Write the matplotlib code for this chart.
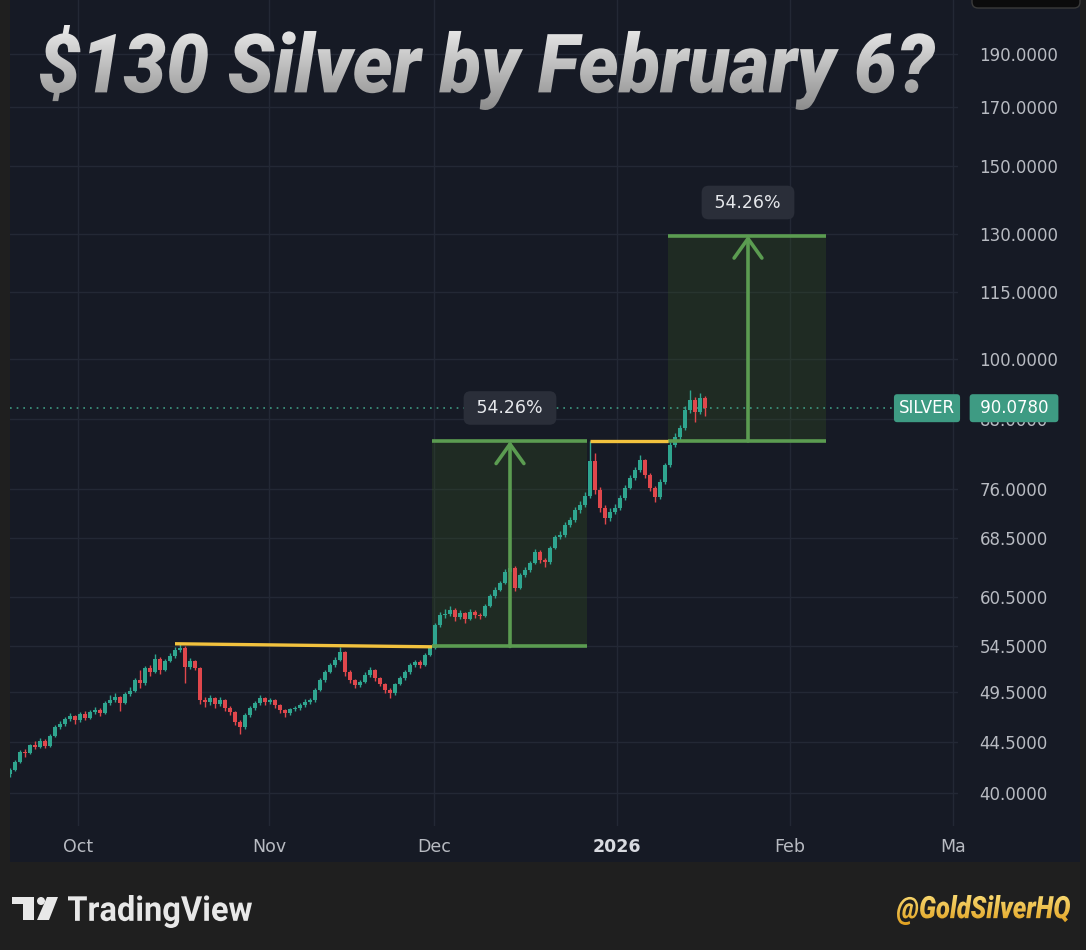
import numpy as np
import matplotlib
matplotlib.use('Agg')
import matplotlib.pyplot as plt
from matplotlib.patches import Rectangle, PathPatch, FancyBboxPatch, Circle, Polygon
from matplotlib.textpath import TextPath
from matplotlib.font_manager import FontProperties
from matplotlib.transforms import Affine2D, blended_transform_factory
from matplotlib.colors import LinearSegmentedColormap
from matplotlib.ticker import NullLocator

# silver candles, one entry per bar
closes = [42.00, 42.70, 43.62, 43.50, 44.26, 44.10, 44.64, 44.20, 45.11, 45.98,
          46.27, 46.76, 47.05, 46.65, 47.25, 46.90, 47.46, 47.66, 47.40, 48.36,
          48.67, 48.98, 48.40, 49.29, 49.60, 50.77, 50.40, 52.07, 51.60, 53.07,
          51.85, 52.84, 53.40, 54.08, 54.31, 52.18, 52.80, 52.07, 48.67, 48.47,
          48.88, 48.26, 48.67, 47.86, 47.46, 46.46, 45.98, 47.15, 47.86, 48.36,
          48.88, 48.47, 48.67, 48.16, 47.66, 47.35, 47.76, 47.86, 48.16, 48.47,
          48.67, 49.71, 50.77, 51.63, 52.40, 52.95, 53.86, 51.63, 50.77, 50.24,
          50.56, 51.31, 51.85, 50.98, 50.34, 49.71, 49.39, 50.34, 50.98, 51.63,
          52.40, 52.73, 52.45, 53.52, 54.31, 57.01, 58.23, 58.35, 58.85, 57.98,
          58.47, 57.74, 58.60, 58.23, 58.11, 59.35, 60.61, 61.39, 62.30, 63.76,
          64.30, 61.65, 63.36, 64.03, 64.98, 66.51, 65.40, 65.11, 67.07, 68.65,
          68.94, 70.41, 71.15, 72.67, 73.44, 74.85, 80.50, 75.80, 72.98, 71.46,
          72.36, 72.98, 74.54, 76.13, 77.75, 79.07, 80.75, 78.24, 76.13, 74.69,
          77.09, 79.91, 83.35, 84.77, 86.39, 89.74, 91.65, 89.36, 92.04, 90.08]
highs = [42.2, 42.9, 43.8, 43.9, 44.4, 44.6, 44.9, 44.8, 45.3, 46.2,
         46.6, 47.0, 47.4, 47.2, 47.5, 47.6, 47.7, 48.0, 47.9, 48.6,
         49.2, 49.4, 49.1, 49.5, 50.0, 51.0, 51.9, 52.3, 52.4, 53.6,
         53.3, 53.1, 53.7, 54.4, 54.8, 54.5, 53.2, 53.0, 52.2, 49.0,
         49.2, 49.0, 49.0, 48.8, 48.1, 47.6, 46.7, 47.4, 48.1, 48.6,
         49.2, 49.0, 48.9, 48.8, 48.3, 47.8, 47.9, 48.1, 48.4, 48.8,
         48.9, 49.9, 51.0, 51.9, 52.6, 53.3, 54.4, 54.0, 51.8, 50.9,
         50.8, 51.6, 52.2, 52.0, 51.1, 50.5, 49.9, 50.5, 51.2, 51.9,
         52.6, 53.0, 52.9, 53.7, 54.6, 57.3, 58.6, 59.0, 59.3, 59.1,
         58.8, 58.6, 59.0, 58.9, 58.5, 59.6, 60.9, 61.8, 62.6, 64.1,
         64.8, 64.6, 63.6, 64.4, 65.3, 66.9, 66.8, 65.7, 67.4, 69.0,
         69.5, 70.8, 71.6, 73.1, 74.0, 75.4, 84.05, 82.0, 76.3, 73.5,
         73.0, 73.6, 75.0, 76.6, 78.2, 79.6, 81.6, 81.0, 78.6, 76.5,
         77.5, 80.3, 83.8, 85.4, 87.0, 90.4, 93.6, 92.3, 93.0, 92.5]
lows = [41.4, 41.9, 42.6, 43.2, 43.4, 43.9, 44.0, 44.0, 44.1, 45.0,
        45.8, 46.1, 46.6, 46.3, 46.5, 46.7, 46.8, 47.3, 47.1, 47.3,
        48.2, 48.5, 47.6, 48.3, 49.1, 49.5, 49.9, 50.2, 51.2, 51.5,
        51.4, 51.7, 52.7, 53.2, 53.9, 50.4, 52.0, 51.8, 48.3, 48.0,
        48.2, 47.9, 48.1, 47.6, 47.2, 46.2, 45.3, 45.8, 47.0, 47.7,
        48.2, 48.2, 48.3, 47.9, 47.4, 47.0, 47.2, 47.6, 47.7, 48.0,
        48.3, 48.5, 49.6, 50.6, 51.5, 52.2, 52.8, 51.2, 50.4, 49.9,
        50.0, 50.4, 51.1, 50.7, 50.1, 49.4, 48.9, 49.2, 50.2, 50.8,
        51.4, 52.2, 52.1, 52.3, 53.4, 54.2, 56.8, 57.9, 58.1, 57.5,
        57.8, 57.3, 57.6, 57.9, 57.8, 58.0, 59.2, 60.4, 61.2, 62.1,
        63.5, 61.2, 61.5, 63.1, 63.8, 64.8, 65.0, 64.5, 64.9, 66.9,
        68.3, 68.7, 70.1, 70.9, 72.2, 73.2, 74.6, 75.2, 72.4, 70.6,
        71.0, 72.0, 72.7, 74.2, 75.9, 77.4, 78.8, 77.8, 75.7, 73.9,
        74.4, 76.8, 79.6, 83.0, 84.3, 86.0, 89.2, 87.5, 88.9, 88.6]
first_open = 41.60

last_price = 90.0780
symbol = 'SILVER'

price_ticks = [40, 44.5, 49.5, 54.5, 60.5, 68.5, 76, 88, 100, 115, 130, 150, 170, 190]
month_labels = ['Oct', 'Nov', 'Dec', '2026', 'Feb', 'Ma']
month_bars = [13.6, 51.8, 84.8, 121.4, 156.0, 188.6]

# price range tool: bottom of the first box, percent move, bar spans
range_low = 54.49
range_pct = 54.26
box1_bars = (84.4, 115.4, 100.0)   # left, right, arrow
box2_bars = (131.6, 163.2, 147.6)

# yellow resistance lines (bar0, price0, bar1, price1)
res1 = (33.0, 54.80, 84.4, 54.45)
res2_bars = (116.0, 131.6)

title = '$130 Silver by February 6?'
handle = '@GoldSilverHQ'

W, H = 1086, 950
BG = '#161a25'
GRID = '#232835'
UP = '#2fa58f'
DOWN = '#e0474c'
GREEN = '#5b9c51'
YELLOW = '#f2c23e'
TEAL = '#3e9b83'
LABEL = '#b8bbc2'

fig = plt.figure(figsize=(W / 100, H / 100), dpi=100, facecolor='#1f1f1f')
fig.patches.append(Rectangle((10 / W, 1 - 862 / H), 1070 / W, 862 / H,
                             transform=fig.transFigure, fc=BG, ec='none', zorder=-5))

ax = fig.add_axes([10 / W, 1 - 826 / H, 948 / W, 826 / H])
ax.set_facecolor(BG)
ax.set_yscale('log')
ax.set_ylim(37.31, 213.1)
ax.set_xlim(0, 189.6)
for s in ax.spines.values():
    s.set_visible(False)

# candles
opens = [first_open] + closes[:-1]
x = np.arange(len(closes))
o = np.array(opens)
c = np.array(closes)
cols = [UP if cc >= oo else DOWN for oo, cc in zip(o, c)]
lo_b = np.minimum(o, c)
hi_b = np.maximum(o, c)
ax.vlines(x, lows, highs, colors=cols, lw=1.0, zorder=4)
ax.bar(x, np.maximum(hi_b - lo_b, 0.08), bottom=lo_b, width=0.7, color=cols, zorder=4, lw=0)

# price range boxes
top1 = range_low * (1 + range_pct / 100)
top2 = top1 * (1 + range_pct / 100)
for (x0, x1, xa), lo, hi in [(box1_bars, range_low, top1), (box2_bars, top1, top2)]:
    ax.add_patch(Rectangle((x0, lo), x1 - x0, hi - lo, fc='#3a5e21', alpha=0.25, ec='none', zorder=2))
    ax.hlines([lo, hi], x0, x1, color=GREEN, lw=2.6, zorder=5)
    ax.annotate('', xy=(xa, hi), xytext=(xa, lo),
                arrowprops=dict(arrowstyle='->,head_length=0.7,head_width=0.5', color=GREEN,
                                lw=2.6, shrinkA=0, shrinkB=0, mutation_scale=20), zorder=5)
    ax.annotate(f' {range_pct:.2f}% ', xy=(xa, hi), xytext=(0, 33), textcoords='offset pixels',
                ha='center', va='center', fontsize=12.5, color='#e6e8ec', zorder=7,
                bbox=dict(boxstyle='round,pad=0.45,rounding_size=0.4', fc='#2a2e39', ec='none'))

# resistance lines
ax.plot([res1[0], res1[2]], [res1[1], res1[3]], color=YELLOW, lw=2.4, zorder=6, solid_capstyle='butt')
ax.plot(list(res2_bars), [top1, top1], color=YELLOW, lw=2.4, zorder=6, solid_capstyle='butt')

# last price
ax.axhline(last_price, color=TEAL, ls=(0, (1, 3)), lw=1.2, zorder=3)
bt = blended_transform_factory(ax.transAxes, ax.transData)
ax.text(0.9673, last_price, symbol, transform=bt, ha='center', va='center', fontsize=12,
        color='white', zorder=8, clip_on=False,
        bbox=dict(boxstyle='round,pad=0.3,rounding_size=0.2', fc=TEAL, ec='none'))
ax.text(1.0591, last_price, f' {last_price:.4f} ', transform=bt, ha='center', va='center',
        fontsize=12, color='white', zorder=8, clip_on=False,
        bbox=dict(boxstyle='round,pad=0.3,rounding_size=0.2', fc=TEAL, ec='none'))

# axes
ax.set_yticks(price_ticks)
ax.set_yticklabels([f'{v:.4f}' for v in price_ticks])
ax.yaxis.set_minor_locator(NullLocator())
ax.yaxis.tick_right()
ax.tick_params(axis='y', length=0, pad=15.5, labelsize=12, labelcolor=LABEL)
ax.set_xticks(month_bars)
ax.set_xticklabels(month_labels)
ax.tick_params(axis='x', length=0, pad=9, labelsize=12.5, labelcolor=LABEL)
for t in ax.get_xticklabels():
    if t.get_text() == '2026':
        t.set_fontweight('bold')
        t.set_color('#d8dae0')
ax.grid(True, color=GRID, lw=1)
ax.set_axisbelow(True)

# overlay in pixel coordinates for title and footer
ov = fig.add_axes([0, 0, 1, 1], zorder=10)
ov.set_xlim(0, W)
ov.set_ylim(H, 0)
ov.axis('off')
ov.patch.set_visible(False)


def path_text(s, x0, x1, y_top, y_bot, prop, c_top, c_bot):
    tp = TextPath((0, 0), s, size=100, prop=prop)
    bb = tp.get_extents()
    tr = Affine2D().translate(-bb.x0, -bb.y0).scale((x1 - x0) / bb.width, -(y_bot - y_top) / bb.height).translate(x0, y_bot)
    patch = PathPatch(tr.transform_path(tp), fc='none', ec='none')
    ov.add_patch(patch)
    grad = np.linspace(0, 1, 256).reshape(-1, 1)
    cmap = LinearSegmentedColormap.from_list('g', [c_top, c_bot])
    im = ov.imshow(grad, cmap=cmap, extent=(x0, x1, y_bot, y_top), aspect='auto', origin='upper', zorder=5)
    im.set_clip_path(patch)


heavy_it = FontProperties(family=['Roboto', 'DejaVu Sans'], weight='black', style='italic')
path_text(title, 40, 935, 25, 110, heavy_it, '#ececec', '#8c8c8c')
path_text(handle, 897, 1070, 895, 925, heavy_it, '#f8d870', '#e0a020')
path_text('TradingView', 68, 252, 895, 928,
          FontProperties(family=['Roboto', 'DejaVu Sans'], weight='bold'), '#e8e8e8', '#e8e8e8')

# TradingView logo
logo = '#e8e8e8'
ov.add_patch(Rectangle((12, 897), 22, 7, fc=logo, ec='none'))
ov.add_patch(Rectangle((23, 897), 11, 23, fc=logo, ec='none'))
ov.add_patch(Circle((41, 901), 4, fc=logo, ec='none'))
ov.add_patch(Polygon([(47, 897), (58, 897), (49, 920), (37, 920)], closed=True, fc=logo, ec='none'))

# top-right widget corner
ov.add_patch(FancyBboxPatch((972, -14), 108, 22, boxstyle='round,pad=0,rounding_size=6',
                            fc='#0b0b0c', ec='#3a3a3a', lw=1))
ov.set_xlim(0, W)
ov.set_ylim(H, 0)

fig.savefig('out.png', dpi=100, facecolor=fig.get_facecolor())
